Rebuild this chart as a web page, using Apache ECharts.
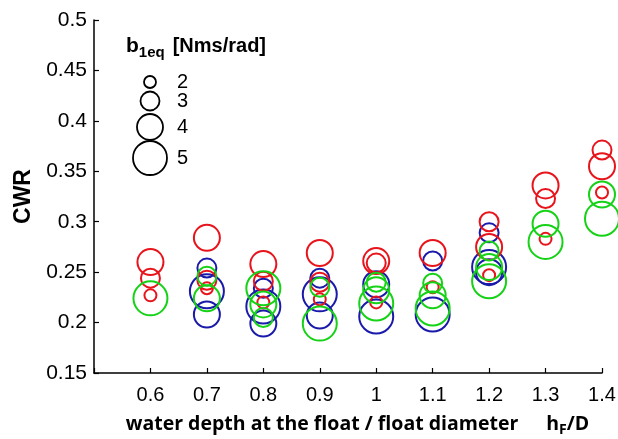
<!DOCTYPE html>
<html>
<head>
<meta charset="utf-8">
<script src="https://cdn.jsdelivr.net/npm/echarts@6/dist/echarts.min.js"></script>
<style>
  html, body { margin: 0; padding: 0; background: #fff; }
  #chart { width: 618px; height: 439px; }
</style>
</head>
<body>
<div id="chart"></div>
<script>
// [hF/D, CWR, b1eq]
var redData = [
  [0.6, 0.260, 4], [0.6, 0.244, 3], [0.6, 0.227, 2],
  [0.7, 0.284, 4], [0.7, 0.242, 3], [0.7, 0.234, 2],
  [0.8, 0.258, 4], [0.8, 0.241, 3], [0.8, 0.220, 2],
  [0.9, 0.269, 4], [0.9, 0.240, 3], [0.9, 0.223, 2],
  [1.0, 0.261, 4], [1.0, 0.259, 3], [1.0, 0.220, 2],
  [1.1, 0.269, 4], [1.1, 0.235, 2],
  [1.2, 0.300, 3], [1.2, 0.275, 4], [1.2, 0.247, 2],
  [1.3, 0.336, 4], [1.3, 0.323, 3], [1.3, 0.283, 2],
  [1.4, 0.371, 3], [1.4, 0.355, 4], [1.4, 0.329, 2]
]
var blueData = [
  [0.7, 0.254, 3], [0.7, 0.231, 5], [0.7, 0.208, 4],
  [0.8, 0.234, 3], [0.8, 0.216, 5], [0.8, 0.199, 4],
  [0.9, 0.244, 3], [0.9, 0.228, 5], [0.9, 0.207, 4],
  [1.0, 0.238, 4], [1.0, 0.206, 5],
  [1.1, 0.261, 3], [1.1, 0.208, 5],
  [1.2, 0.289, 3], [1.2, 0.255, 5], [1.2, 0.250, 4]
]
var greenData = [
  [0.6, 0.224, 5],
  [0.7, 0.246, 3], [0.7, 0.224, 4],
  [0.8, 0.234, 5], [0.8, 0.218, 4], [0.8, 0.205, 3],
  [0.9, 0.235, 3], [0.9, 0.199, 5],
  [1.0, 0.240, 3], [1.0, 0.232, 4], [1.0, 0.219, 5],
  [1.1, 0.239, 3], [1.1, 0.227, 4], [1.1, 0.214, 5],
  [1.2, 0.271, 3], [1.2, 0.255, 4], [1.2, 0.241, 5],
  [1.3, 0.298, 4], [1.3, 0.280, 5],
  [1.4, 0.327, 4], [1.4, 0.303, 5]
]
var legendB = [2, 3, 4, 5]

// circle diameter in px for each b1eq
var SYMBOL_PX = {2: 12, 3: 19, 4: 26, 5: 34}

var chart = echarts.init(document.getElementById('chart'), null, {renderer: 'canvas'})

function circles(name, data, color) {
  return {
    name: name,
    type: 'scatter',
    data: data,
    symbol: 'circle',
    symbolSize: function (v) { return SYMBOL_PX[v[2]] },
    clip: false,
    silent: true,
    itemStyle: { color: 'rgba(0,0,0,0)', borderColor: color, borderWidth: 2, opacity: 1 },
    emphasis: { disabled: true }
  }
}

// legend: circles stacked under the title
var legendGraphic = []
var legendY = {2: 82, 3: 101, 4: 127, 5: 158}
legendB.forEach(function (b) {
  legendGraphic.push({
    type: 'circle',
    shape: { cx: 150, cy: legendY[b], r: SYMBOL_PX[b] / 2 },
    style: { fill: 'none', stroke: '#000', lineWidth: 1.8 }
  })
  legendGraphic.push({
    type: 'text',
    x: 177, y: legendY[b],
    style: { text: String(b), font: '20px "Liberation Sans", Arial', fill: '#000', verticalAlign: 'middle' }
  })
})
legendGraphic.push({
  type: 'text',
  x: 126, y: 46,
  style: {
    text: '{b|b}{s|1eq}{u|[Nms/rad]}',
    verticalAlign: 'middle',
    rich: {
      b: { fontFamily: '"Liberation Sans", Arial', fontWeight: 'bold', fontSize: 21, lineHeight: 22, fill: '#000' },
      s: { fontFamily: '"Liberation Sans", Arial', fontWeight: 'bold', fontSize: 15, lineHeight: 16, padding: [14, 0, 0, 0], fill: '#000' },
      u: { fontFamily: '"Liberation Sans", Arial', fontWeight: 'bold', fontSize: 20, lineHeight: 22, padding: [0, 0, 0, 8], fill: '#000' }
    }
  }
})

var option = {
  backgroundColor: '#fff',
  animation: false,
  grid: { left: 94, right: 16, top: 20, bottom: 66, containLabel: false, outerBoundsMode: 'none' },
  xAxis: {
    type: 'value',
    min: 0.5, max: 1.4, interval: 0.1,
    name: '{a|water depth at the float / float diameter}{g|}{a|h}{s|F}{a|/D}',
    nameLocation: 'middle',
    nameGap: 40,
    nameTextStyle: {
      padding: [0, 0, 0, 19],
      rich: {
        a: { fontFamily: '"Open Sans"', fontWeight: 'bold', fontSize: 19.5, lineHeight: 22, color: '#000' },
        g: { width: 28 },
        s: { fontFamily: '"Open Sans"', fontWeight: 'bold', fontSize: 14, lineHeight: 15, padding: [13, 0, 0, 0], color: '#000' }
      }
    },
    axisLine: { onZero: false, lineStyle: { color: '#000', width: 1.5 } },
    axisTick: { inside: true, length: 5, lineStyle: { color: '#000', width: 1.2 } },
    axisLabel: {
      margin: 12, color: '#000', fontSize: 20, fontFamily: '"Liberation Sans", Arial',
      formatter: function (v) { return Math.abs(v - 0.5) < 1e-9 ? '' : String(+v.toFixed(1)) }
    },
    splitLine: { show: false }
  },
  yAxis: {
    type: 'value',
    min: 0.15, max: 0.5, interval: 0.05,
    name: 'CWR',
    nameLocation: 'middle',
    nameRotate: 90,
    nameGap: 58,
    nameTextStyle: { fontFamily: '"Liberation Sans", Arial', fontWeight: 'bold', fontSize: 23, color: '#000' },
    axisLine: { show: true, onZero: false, lineStyle: { color: '#000', width: 1.5 } },
    axisTick: { show: true, inside: true, length: 5, lineStyle: { color: '#000', width: 1.2 } },
    axisLabel: {
      margin: 7, color: '#000', fontSize: 21, fontFamily: '"Liberation Sans", Arial',
      formatter: function (v) { return String(+v.toFixed(2)) }
    },
    splitLine: { show: false }
  },
  graphic: legendGraphic,
  series: [
    circles('blue', blueData, '#1a1aaa'),
    circles('red', redData, '#e8141c'),
    circles('green', greenData, '#16d216')
  ]
}

chart.setOption(option)
</script>
</body>
</html>
